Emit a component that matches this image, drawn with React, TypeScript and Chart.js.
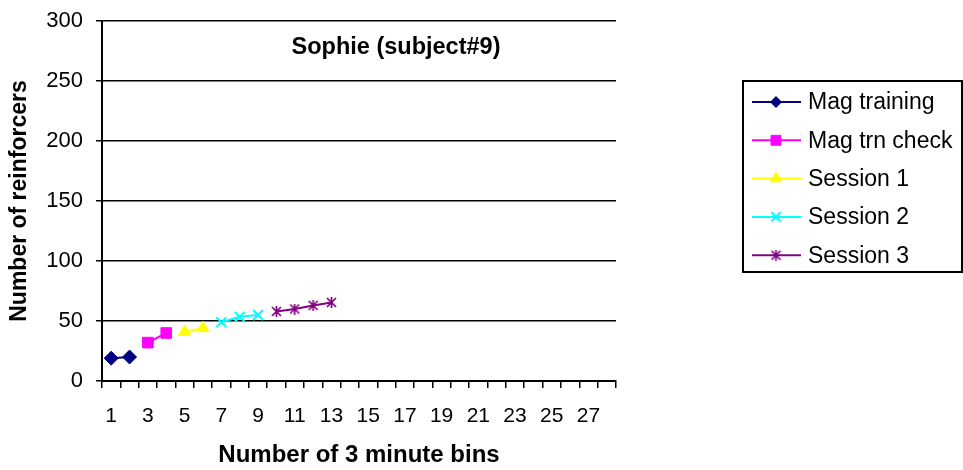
import React, { useEffect, useRef } from 'react';
import { Chart, registerables } from 'chart.js';
import { drawPoint } from 'chart.js/helpers';

Chart.register(...registerables);

// ---------- data ----------
const categories = ['1', '2', '3', '4', '5', '6', '7', '8', '9', '10', '11', '12', '13', '14', '15', '16', '17', '18', '19', '20', '21', '22', '23', '24', '25', '26', '27', '28'];
const tickLabels = ['1', '3', '5', '7', '9', '11', '13', '15', '17', '19', '21', '23', '25', '27'];

const chartTitle = 'Sophie (subject#9)';
const xTitle = 'Number of 3 minute bins';
const yTitle = 'Number of reinforcers';

const magTrainingBins = ['1', '2'];
const magTrainingValues = [19, 20];
const magCheckBins = ['3', '4'];
const magCheckValues = [32, 40];
const session1Bins = ['5', '6'];
const session1Values = [41, 44];
const session2Bins = ['7', '8', '9'];
const session2Values = [49, 53.5, 55];
const session3Bins = ['10', '11', '12', '13'];
const session3Values = [58, 60, 63, 65.5];

const FONT = "'Liberation Sans', Arial, sans-serif";

function makeStar(color: string, size: number) {
  const c = document.createElement('canvas');
  c.width = size;
  c.height = size;
  const g = c.getContext('2d')!;
  g.strokeStyle = color;
  g.lineWidth = 1.7;
  const m = size / 2;
  const r = size / 2 - 1;
  g.beginPath();
  g.moveTo(m - r, m - r);
  g.lineTo(m + r, m + r);
  g.moveTo(m + r, m - r);
  g.lineTo(m - r, m + r);
  g.moveTo(m, 0);
  g.lineTo(m, size);
  g.stroke();
  return c;
}

function toPoints(bins: string[], values: number[]) {
  return bins.map((b, i) => ({ x: b, y: values[i] }));
}

export default function App() {
  const ref = useRef<HTMLCanvasElement>(null);

  useEffect(() => {
    if (!ref.current) return;
    const starPlot = makeStar('#800080', 11);
    const starLegend = makeStar('#800080', 11);

    const series = [
      { label: 'Mag training', color: '#000080', style: 'rectRot', r: 7, lr: 5.5, bw: 1, data: toPoints(magTrainingBins, magTrainingValues) },
      { label: 'Mag trn check', color: '#FF00FF', style: 'rect', r: 7.5, lr: 7, bw: 1, data: toPoints(magCheckBins, magCheckValues) },
      { label: 'Session 1', color: '#FFFF00', style: 'triangle', r: 7, lr: 6.5, bw: 1, data: toPoints(session1Bins, session1Values) },
      { label: 'Session 2', color: '#00FFFF', style: 'crossRot', r: 7, lr: 6.5, bw: 2, data: toPoints(session2Bins, session2Values) },
      { label: 'Session 3', color: '#800080', style: 'star', r: 6, lr: 6, bw: 2, data: toPoints(session3Bins, session3Values) },
    ];

    const overlay = {
      id: 'overlay',
      afterDraw(chart: any) {
        const ctx = chart.ctx;
        ctx.save();
        // chart title
        ctx.fillStyle = '#000';
        ctx.font = `bold 23.5px ${FONT}`;
        ctx.textAlign = 'center';
        ctx.textBaseline = 'middle';
        ctx.fillText(chartTitle, 396, 48);
        // legend
        ctx.strokeStyle = '#000';
        ctx.lineWidth = 2;
        ctx.strokeRect(743, 81, 219, 191);
        series.forEach((s, i) => {
          const y = 102 + i * 38.3;
          ctx.strokeStyle = s.color;
          ctx.fillStyle = s.color;
          ctx.lineWidth = 2;
          ctx.beginPath();
          ctx.moveTo(752, y);
          ctx.lineTo(801, y);
          ctx.stroke();
          const ps = s.style === 'star' ? starLegend : s.style;
          ctx.lineWidth = s.bw;
          drawPoint(ctx, { pointStyle: ps, radius: s.lr, borderWidth: s.bw, rotation: 0 } as any, 776, y);
          ctx.fillStyle = '#000';
          ctx.font = `23px ${FONT}`;
          ctx.textAlign = 'left';
          ctx.textBaseline = 'middle';
          ctx.fillText(s.label, 808, y + 1);
        });
        ctx.restore();
      },
    };

    const chart = new Chart(ref.current, {
      type: 'line',
      data: {
        labels: categories,
        datasets: series.map((s) => ({
          label: s.label,
          data: s.data as any,
          borderColor: s.color,
          backgroundColor: s.color,
          borderWidth: 2,
          pointStyle: (s.style === 'star' ? starPlot : s.style) as any,
          pointRadius: s.r,
          pointBorderWidth: s.bw,
          pointBackgroundColor: s.color,
          pointBorderColor: s.color,
          fill: false,
          tension: 0,
          spanGaps: false,
        })),
      },
      options: {
        animation: false,
        responsive: false,
        devicePixelRatio: 1,
        layout: { padding: { left: 0, top: 21, right: 347, bottom: 0 }, autoPadding: false } as any,
        plugins: { legend: { display: false }, tooltip: { enabled: false }, title: { display: false } },
        scales: {
          x: {
            type: 'category',
            offset: true,
            grid: { offset: true, drawOnChartArea: false, drawTicks: true, tickLength: 7, color: '#000', lineWidth: 1.5 },
            border: { display: true, color: '#000', width: 2 },
            ticks: {
              autoSkip: false,
              maxRotation: 0,
              color: '#000',
              padding: 16,
              font: { family: FONT, size: 21 },
              callback: function (this: any, value: any) {
                const lab = this.getLabelForValue(value);
                return tickLabels.includes(lab) ? lab : '';
              },
            },
            title: { display: true, text: xTitle, color: '#000', font: { family: FONT, size: 24, weight: 'bold' }, padding: { top: 0, bottom: 0 } },
            afterFit: (s: any) => { s.height = 89; s.paddingLeft = 0; s.paddingRight = 0; },
          },
          y: {
            min: 0,
            max: 300,
            grid: { color: '#000', lineWidth: 1.5, drawTicks: true, tickLength: 6 },
            border: { display: true, color: '#000', width: 2 },
            ticks: { stepSize: 50, color: '#000', padding: 13, font: { family: FONT, size: 22 } },
            title: { display: true, text: yTitle, color: '#000', font: { family: FONT, size: 23, weight: 'bold' }, padding: { top: 6, bottom: 0 } },
            afterFit: (s: any) => { s.width = 102; s.paddingTop = 0; s.paddingBottom = 0; },
          },
        },
      },
      plugins: [overlay],
    });
    return () => chart.destroy();
  }, []);

  return (
    <div style={{ position: 'absolute', left: 0, top: 0, width: 963, height: 470, background: '#fff' }}>
      <canvas ref={ref} width={963} height={470} style={{ width: 963, height: 470 }} />
    </div>
  );
}
